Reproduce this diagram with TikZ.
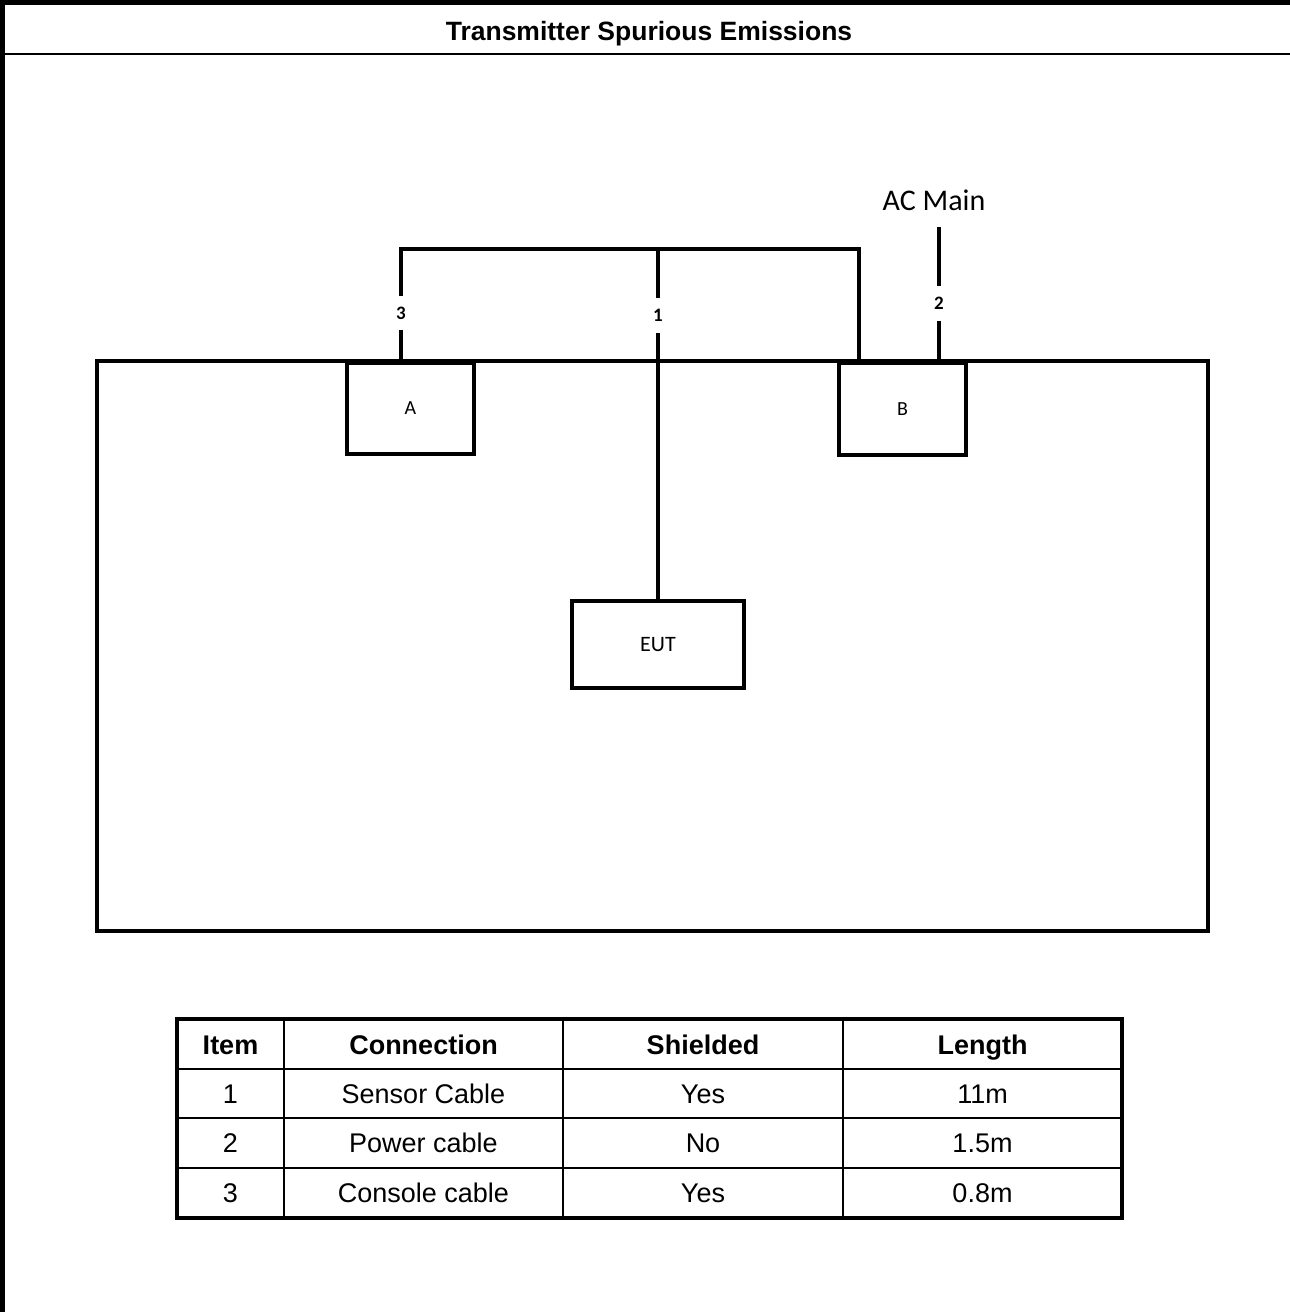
\documentclass[tikz,border=0pt]{standalone}
\usepackage{fontspec}
\setmainfont{Liberation Sans}
\newfontfamily\calfont{Carlito}
\begin{document}
\begin{tikzpicture}[x=1pt,y=-1pt,
  wire/.style={line width=3.8pt},
  boxnode/.style={draw,line width=3.2pt,inner sep=0pt,text height=12.9pt,text depth=0pt,font=\calfont\fontsize{20}{22}\selectfont},
  numlabel/.style={inner sep=0pt,minimum width=14pt,text height=12.2pt,text depth=0pt,font=\calfont\bfseries\fontsize{19}{21}\selectfont},
  cell/.style={inner sep=0pt,text height=19.3pt,text depth=0pt,font=\fontsize{27}{30}\selectfont},
  headcell/.style={cell,font=\bfseries\fontsize{27}{30}\selectfont},
  thinrule/.style={line width=1.6pt},
  thickrule/.style={line width=4pt}]
\useasboundingbox (0,0) rectangle (1290,1312);
% outer frame
\fill[black] (0,0) rectangle (1290,5);
\fill[black] (0,0) rectangle (5,1312);
\draw[line width=2.6pt] (5,54) -- (1290,54);
\node[font=\bfseries\fontsize{26.5}{29}\selectfont,inner sep=0pt,text height=19pt,text depth=0pt] (title) at (649,31) {Transmitter Spurious Emissions};
% bench
\node[draw,line width=3.2pt,minimum width=1111pt,minimum height=570pt,inner sep=0pt] (bench) at (652.5,646) {};
\node[boxnode,minimum width=127pt,minimum height=91pt] (A) at (410.5,408.5) {A};
\node[boxnode,minimum width=127pt,minimum height=92pt] (B) at (902.5,409) {B};
\node[boxnode,minimum width=172pt,minimum height=87pt,text height=14.2pt,font=\calfont\fontsize{22}{24}\selectfont] (EUT) at (658,644.5) {EUT};
% labels
\node[numlabel,minimum height=34pt] (l3) at (401,313) {3};
\node[numlabel,minimum height=35pt] (l1) at (658,315.5) {1};
\node[numlabel,minimum height=35pt] (l2) at (939,303.5) {2};
\node[inner sep=0pt,text height=19.3pt,text depth=0pt,font=\calfont\fontsize{30}{32}\selectfont] (ac) at (934,201) {AC Main};
\coordinate (c3) at (401,249);
\coordinate (c1) at (658,249);
\coordinate (cB) at (859,249);
\coordinate (acend) at (939,227);
% wires
\draw[wire] (l3.north) -- (c3) -- (cB) -- (cB |- bench.north);
\draw[wire] (c1) -- (l1.north);
\draw[wire] (l1.south) -- (EUT.north);
\draw[wire] (l3.south) -- (l3.south |- bench.north);
\draw[wire] (acend) -- (l2.north);
\draw[wire] (l2.south) -- (l2.south |- bench.north);
% table
\foreach \y in {1069,1118,1168}{\draw[thinrule] (177,\y) -- (1122,\y);}
\foreach \x in {284,563,843}{\draw[thinrule] (\x,1019) -- (\x,1218);}
\draw[thickrule] (177,1019) rectangle (1122,1218);
\node[headcell] (h1) at (230.5,1045) {Item};
\node[headcell] (h2) at (423.5,1045) {Connection};
\node[headcell] (h3) at (703,1045) {Shielded};
\node[headcell] (h4) at (982.5,1045) {Length};
\node[cell] (r11) at (230.5,1094) {1};
\node[cell] (r12) at (423.5,1094) {Sensor Cable};
\node[cell] (r13) at (703,1094) {Yes};
\node[cell] (r14) at (982.5,1094) {11m};
\node[cell] (r21) at (230.5,1143) {2};
\node[cell] (r22) at (423.5,1143) {Power cable};
\node[cell] (r23) at (703,1143) {No};
\node[cell] (r24) at (982.5,1143) {1.5m};
\node[cell] (r31) at (230.5,1193) {3};
\node[cell] (r32) at (423.5,1193) {Console cable};
\node[cell] (r33) at (703,1193) {Yes};
\node[cell] (r34) at (982.5,1193) {0.8m};
\end{tikzpicture}
\end{document}
